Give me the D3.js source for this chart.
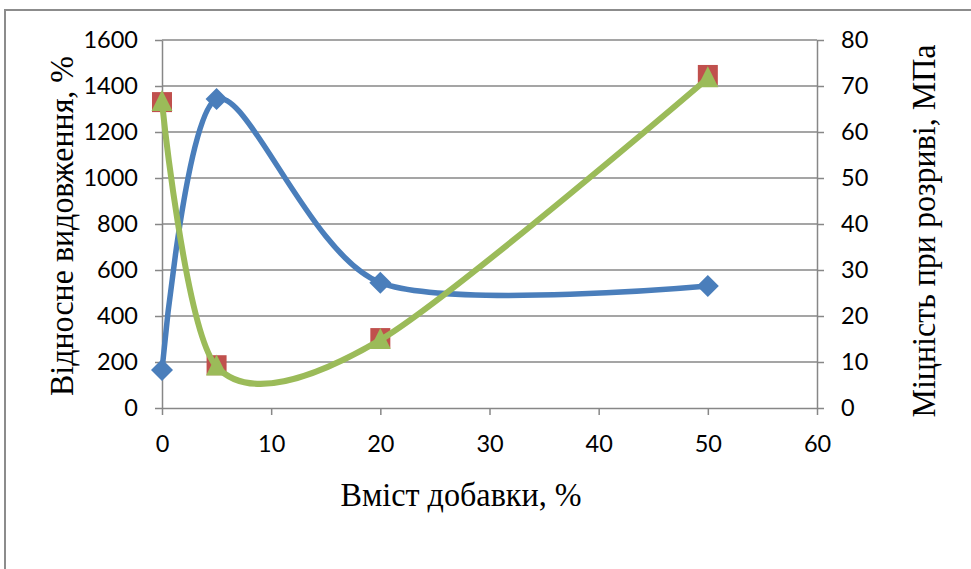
<!DOCTYPE html>
<html>
<head>
<meta charset="utf-8">
<script src="https://cdn.jsdelivr.net/npm/d3@7"></script>
<style>
  html, body { margin: 0; padding: 0; background: #fff; }
  svg { display: block; }
</style>
</head>
<body>
<svg id="chart" width="971" height="569"></svg>
<script>
// ---- data ----
const additive = [0, 5, 20, 50];                 // Вміст добавки, %
const elongation = [165, 1343, 545, 530];        // Відносне видовження, % (left axis)
const strengthMarkers = [66.5, 9.3, 15.2, 72.4]; // red squares (right axis)
const strength = [66.5, 9.0, 14.8, 71.7];        // green line + triangles (right axis)
const xTicks = [0, 10, 20, 30, 40, 50, 60];
const leftTicks = [0, 200, 400, 600, 800, 1000, 1200, 1400, 1600];
const rightTicks = [0, 10, 20, 30, 40, 50, 60, 70, 80];
const xTitle = "Вміст добавки, %";
const leftTitle = "Відносне видовження, %";
const rightTitle = "Міцність при розриві, МПа";

// ---- layout ----
const W = 971, H = 569;
const plot = { left: 162, right: 817, top: 40, bottom: 408 };
const svg = d3.select("#chart");

const x = d3.scaleLinear().domain([0, 60]).range([plot.left, plot.right]);
const yL = d3.scaleLinear().domain([0, 1600]).range([plot.bottom, plot.top]);
const yR = d3.scaleLinear().domain([0, 80]).range([plot.bottom, plot.top]);

const gridColor = "#878787";
const tickFont = "Lato, 'Open Sans', sans-serif";
const titleFont = "'Liberation Serif', 'Times New Roman', serif";

// outer frame (top and left edges visible)
svg.append("path")
  .attr("d", `M5,${H} L5,10 L${W},10`)
  .attr("fill", "none").attr("stroke", "#8c8c8c").attr("stroke-width", 2);

// gridlines
svg.append("g").selectAll("line").data(leftTicks.filter(d => d > 0)).join("line")
  .attr("x1", plot.left).attr("x2", plot.right)
  .attr("y1", d => yL(d)).attr("y2", d => yL(d))
  .attr("stroke", gridColor).attr("stroke-width", 1.5);

// axes
function styleAxis(g) {
  g.select(".domain").attr("stroke", gridColor).attr("stroke-width", 1.5);
  g.selectAll(".tick line").attr("stroke", gridColor).attr("stroke-width", 1.5);
  g.selectAll(".tick text").attr("fill", "#000").style("font-family", tickFont).style("font-size", "23.5px");
}
const axL = svg.append("g").attr("transform", `translate(${plot.left},0)`)
  .call(d3.axisLeft(yL).tickValues(leftTicks).tickSize(7).tickSizeOuter(0).tickPadding(17).tickFormat(d3.format("d")));
styleAxis(axL);
const axR = svg.append("g").attr("transform", `translate(${plot.right},0)`)
  .call(d3.axisRight(yR).tickValues(rightTicks).tickSize(7).tickSizeOuter(0).tickPadding(17).tickFormat(d3.format("d")));
styleAxis(axR);
const axB = svg.append("g").attr("transform", `translate(0,${plot.bottom})`)
  .call(d3.axisBottom(x).tickValues(xTicks).tickSize(7).tickSizeOuter(0).tickPadding(20).tickFormat(d3.format("d")));
styleAxis(axB);

// titles (condensed serif)
svg.append("text").attr("x", 461).attr("y", 506).attr("text-anchor", "middle")
  .attr("textLength", 241).attr("lengthAdjust", "spacingAndGlyphs")
  .style("font-family", titleFont).style("font-size", "34px").text(xTitle);
svg.append("text").attr("transform", `translate(73,226) rotate(-90)`).attr("text-anchor", "middle")
  .attr("textLength", 340).attr("lengthAdjust", "spacingAndGlyphs")
  .style("font-family", titleFont).style("font-size", "34px").text(leftTitle);
svg.append("text").attr("transform", `translate(935,231) rotate(-90)`).attr("text-anchor", "middle")
  .attr("textLength", 373).attr("lengthAdjust", "spacingAndGlyphs")
  .style("font-family", titleFont).style("font-size", "34px").text(rightTitle);

const curve = d3.curveCardinal.tension(0.15);

// blue series
const blue = "#4a7ebb";
svg.append("path")
  .datum(additive.map((d, i) => [d, elongation[i]]))
  .attr("d", d3.line().x(d => x(d[0])).y(d => yL(d[1])).curve(curve))
  .attr("fill", "none").attr("stroke", blue).attr("stroke-width", 5.5).attr("stroke-linecap", "round");
svg.append("g").selectAll("path").data(additive.map((d, i) => [d, elongation[i]])).join("path")
  .attr("transform", d => `translate(${x(d[0])},${yL(d[1])})`)
  .attr("d", "M0,-11 L11,0 L0,11 L-11,0 Z")
  .attr("fill", blue);

// red squares
const red = "#c0504d";
svg.append("g").selectAll("rect").data(additive.map((d, i) => [d, strengthMarkers[i]])).join("rect")
  .attr("x", d => x(d[0]) - 10).attr("y", d => yR(d[1]) - 10)
  .attr("width", 20).attr("height", 20)
  .attr("fill", red);

// green series
const green = "#9bbb59";
svg.append("path")
  .datum(additive.map((d, i) => [d, strength[i]]))
  .attr("d", d3.line().x(d => x(d[0])).y(d => yR(d[1])).curve(curve))
  .attr("fill", "none").attr("stroke", green).attr("stroke-width", 6).attr("stroke-linecap", "round");
svg.append("g").selectAll("path").data(additive.map((d, i) => [d, strength[i]])).join("path")
  .attr("transform", d => `translate(${x(d[0])},${yR(d[1])})`)
  .attr("d", "M0,-12 L10.5,9 L-10.5,9 Z")
  .attr("fill", green);
</script>
</body>
</html>
